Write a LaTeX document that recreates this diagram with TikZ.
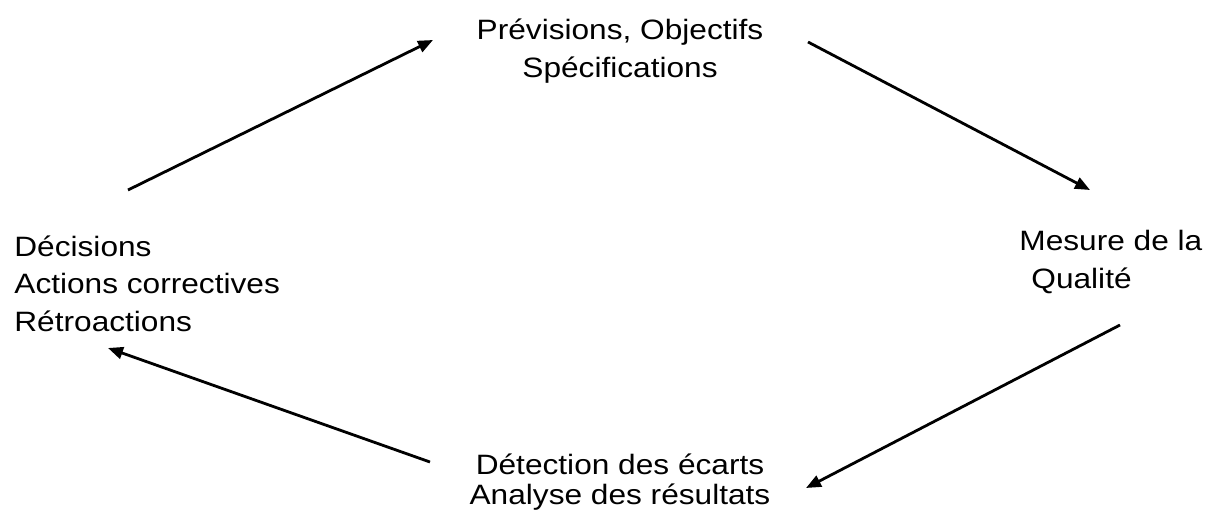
\documentclass[tikz,border=0pt]{standalone}
\usepackage{fontspec}
\setmainfont{Liberation Sans}[FakeStretch=1.13]
\usetikzlibrary{arrows.meta}
\begin{document}
\begin{tikzpicture}[x=0.5pt,y=-0.5pt,
    etiquette/.style={inner sep=0pt,font=\fontsize{14pt}{18.75pt}\selectfont},
    fleche/.style={-{Triangle[length=7.5pt,width=6pt]},line width=1.4pt}]
  \useasboundingbox (0,0) rectangle (1215,509);

  \node[etiquette,align=center,anchor=base] (prev) at (620,77) {Prévisions, Objectifs\\Spécifications}; %haut
  \node[etiquette,align=left,anchor=base west] (mesure) at (1019,288) {Mesure de la\\\hspace*{6pt}Qualité}; %droite
  \node[etiquette,align=center,anchor=base,font=\fontsize{14pt}{15pt}\selectfont] (ecarts) at (620,504) {Détection des écarts\\Analyse des résultats}; %bas
  \node[etiquette,align=left,anchor=base west] (decis) at (14,331) {Décisions\\Actions correctives\\Rétroactions}; %gauche

  \coordinate (decis-out) at (128,190);
  \coordinate (prev-in) at (433,40);
  \coordinate (prev-out) at (808,42);
  \coordinate (mesure-in) at (1090,190);
  \coordinate (mesure-out) at (1120,325);
  \coordinate (ecarts-in) at (806,488);
  \coordinate (ecarts-out) at (430,462);
  \coordinate (decis-in) at (108,348);

  \draw[fleche] (decis-out)--(prev-in);
  \draw[fleche] (prev-out)--(mesure-in);
  \draw[fleche] (mesure-out)--(ecarts-in);
  \draw[fleche] (ecarts-out)--(decis-in);
\end{tikzpicture}
\end{document}
